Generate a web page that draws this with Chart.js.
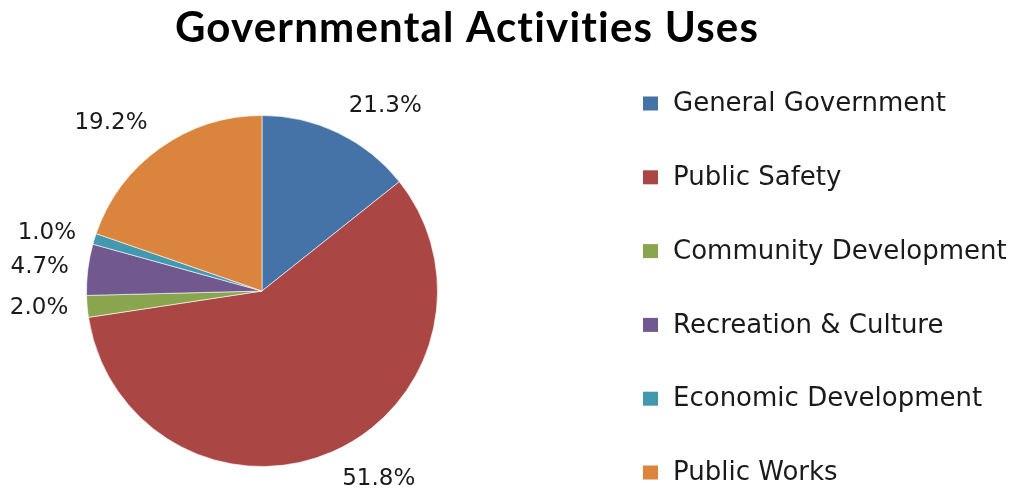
<!DOCTYPE html>
<html>
<head>
<meta charset="utf-8">
<script src="https://cdn.jsdelivr.net/npm/chart.js@4.4.0/dist/chart.umd.min.js"></script>
<style>
  html, body { margin: 0; padding: 0; background: #fff; }
</style>
</head>
<body>
<canvas id="chart" width="1014" height="493"></canvas>
<script>
var chartTitle = 'Governmental Activities Uses';
var categories = ['General Government', 'Public Safety', 'Community Development',
  'Recreation & Culture', 'Economic Development', 'Public Works'];
// size of each slice as it is drawn (share of the circle, %)
var sliceValues = [14.3, 58.3, 2.0, 4.7, 1.0, 19.7];
// percentages printed beside the slices
var pctLabels = ['21.3%', '51.8%', '2.0%', '4.7%', '1.0%', '19.2%'];
var colors = ['#4572A7', '#AA4643', '#89A54E', '#71588F', '#4198AF', '#DB843D'];

// title, outside-end labels and the legend column are drawn here
var decorPlugin = {
  id: 'decor',
  afterDraw: function (chart) {
    var ctx = chart.ctx;
    var meta = chart.getDatasetMeta(0);
    ctx.save();
    ctx.textAlign = 'center';
    ctx.textBaseline = 'middle';

    ctx.fillStyle = '#000';
    ctx.font = 'bold 42px Lato';
    ctx.letterSpacing = '1.2px';
    ctx.fillText(chartTitle, 467, 28, 588);
    ctx.letterSpacing = '0px';

    ctx.fillStyle = '#1a1a1a';
    ctx.font = '23px "DejaVu Sans"';
    meta.data.forEach(function (arc, i) {
      var p = arc.getProps(['x', 'y', 'startAngle', 'endAngle', 'outerRadius'], true);
      var mid = (p.startAngle + p.endAngle) / 2;
      var ux = Math.cos(mid), uy = Math.sin(mid);
      var d = p.outerRadius + 15;
      var txt = pctLabels[i];
      var w = ctx.measureText(txt).width + 8, h = 26;
      var sx = Math.max(-1, Math.min(1, ux * 2.5));
      var sy = Math.max(-1, Math.min(1, 1.5 * uy * Math.abs(uy)));
      ctx.fillText(txt, p.x + ux * d + sx * w / 2, p.y + uy * d + sy * h / 2);
    });

    ctx.textAlign = 'left';
    ctx.font = '26px "DejaVu Sans"';
    for (var i = 0; i < categories.length; i++) {
      var y = 103.5 + i * 73.8;
      ctx.fillStyle = colors[i];
      ctx.fillRect(643, y - 7, 15, 14);
      ctx.fillStyle = '#1a1a1a';
      ctx.fillText(categories[i], 673, y + 1);
    }
    ctx.restore();
  }
};

new Chart(document.getElementById('chart').getContext('2d'), {
  type: 'pie',
  data: {
    labels: categories,
    datasets: [{
      data: sliceValues,
      backgroundColor: colors,
      borderColor: 'rgba(255,255,255,0.6)',
      borderWidth: 1
    }]
  },
  options: {
    responsive: false,
    animation: false,
    layout: { padding: { left: 0, right: 490, top: 115, bottom: 26 } },
    plugins: {
      legend: { display: false },
      title: { display: false },
      tooltip: { enabled: false }
    }
  },
  plugins: [decorPlugin]
});
</script>
</body>
</html>
